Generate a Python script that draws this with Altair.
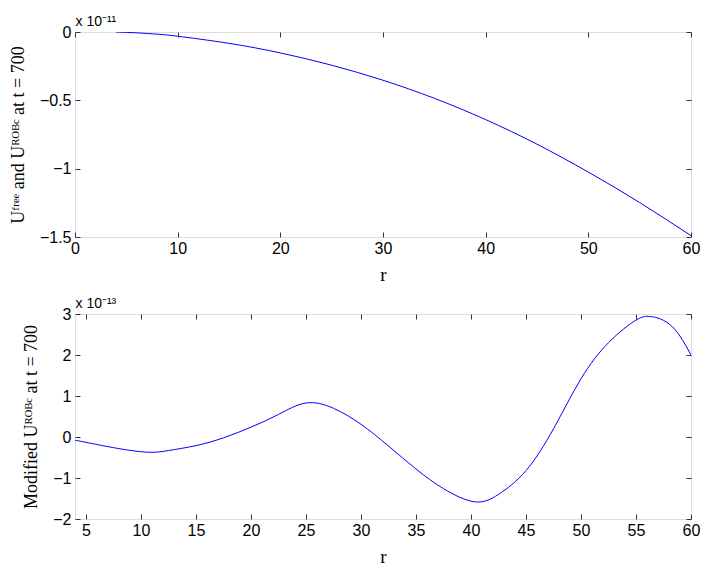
import altair as alt
import pandas as pd

# Top panel: U^free and U^ROBC at t = 700 (units of 1e-11)
r_top = [4, 6, 8, 10, 15, 20, 25, 30, 35, 40, 45, 50, 55, 60]
u_top = [0.0, -0.006, -0.016, -0.031, -0.083, -0.153, -0.243, -0.353, -0.485, -0.641,
         -0.821, -1.025, -1.248, -1.49]

# Bottom panel: Modified U^ROBC at t = 700 (units of 1e-13)
r_bot = [4, 5, 7.5, 10.5, 12.5, 15, 17.5, 20, 22.5, 25, 27.5, 30, 32.5, 35, 37.5,
         40.3, 42.5, 45, 47.5, 50, 52.5, 55, 56.2, 57, 58, 59, 60]
u_bot = [-0.08, -0.13, -0.26, -0.37, -0.33, -0.21, -0.02, 0.24, 0.55, 0.83, 0.70, 0.31,
         -0.22, -0.78, -1.26, -1.58, -1.40, -0.82, 0.20, 1.42, 2.30, 2.85, 2.94, 2.90,
         2.76, 2.46, 2.0]

top_xticks = [0, 10, 20, 30, 40, 50, 60]
top_yticks = [0, -0.5, -1, -1.5]
bot_xticks = [5, 10, 15, 20, 25, 30, 35, 40, 45, 50, 55, 60]
bot_yticks = [-2, -1, 0, 1, 2, 3]

LINE = "#0000ff"
SANS = "Liberation Sans"
SERIF = "Liberation Serif"
TICK = "#333333"


def panel(df, xdom, xticks, ydom, yticks, ytitle, mult):
    xs = alt.Scale(domain=xdom, nice=False, zero=False)
    ys = alt.Scale(domain=ydom, nice=False, zero=False)
    base = alt.Chart(df)
    main = base.mark_line(color=LINE, strokeWidth=1, interpolate="natural", clip=True).encode(
        x=alt.X("r:Q", scale=xs,
                axis=alt.Axis(values=xticks, title="r", orient="bottom", offset=-5, tickSize=5,
                              tickColor=TICK, domain=False, grid=False, labelPadding=3,
                              format=".2~f", labelFont=SANS, labelFontSize=16, labelColor="#000",
                              titleFont=SERIF, titleFontSize=19, titleFontWeight="normal",
                              titleColor="#000", titlePadding=9, labelFlush=False)),
        y=alt.Y("u:Q", scale=ys,
                axis=alt.Axis(values=yticks, title=ytitle, orient="left", offset=-5, tickSize=5,
                              tickColor=TICK, domain=False, grid=False, labelPadding=4,
                              format=".2~f", labelFont=SANS, labelFontSize=16, labelColor="#000",
                              titleFont=SERIF, titleFontSize=18, titleFontWeight="normal",
                              titleColor="#000", titlePadding=12, labelFlush=False)),
    )
    mirror = base.mark_line(strokeOpacity=0).encode(
        x=alt.X("r:Q", scale=xs,
                axis=alt.Axis(values=xticks, orient="top", offset=-5, tickSize=5,
                              tickColor=TICK, domain=False, grid=False, labels=False,
                              title=mult, titleAnchor="start", titleAlign="left",
                              titleFont=SANS, titleFontSize=14, titleFontWeight="normal",
                              titleColor="#000", titlePadding=3, minExtent=0)),
        y=alt.Y("u:Q", scale=ys,
                axis=alt.Axis(values=yticks, orient="right", offset=-5, tickSize=5,
                              tickColor=TICK, domain=False, grid=False, labels=False,
                              title="", titlePadding=0, minExtent=0, maxExtent=0)),
    )
    return (
        alt.layer(main, mirror)
        .resolve_axis(x="independent", y="independent")
        .properties(width=616, height=205)
    )


top = panel(pd.DataFrame({"r": r_top, "u": u_top}), [0, 60], top_xticks, [-1.5, 0], top_yticks,
            "Uᶠʳᵉᵉ and Uᴿᴼᴮᶜ at t = 700", "x 10⁻¹¹")
bot = panel(pd.DataFrame({"r": r_bot, "u": u_bot}), [4, 60], bot_xticks, [-2, 3], bot_yticks,
            "Modified Uᴿᴼᴮᶜ at t = 700", "x 10⁻¹³")

chart = (
    alt.vconcat(top, bot, spacing=11)
    .configure_view(stroke="#000", strokeWidth=1)
    .configure(padding={"left": 0, "top": 6, "right": 0, "bottom": 0})
)

chart.save("out.html", embed_options={"renderer": "svg", "actions": False})
